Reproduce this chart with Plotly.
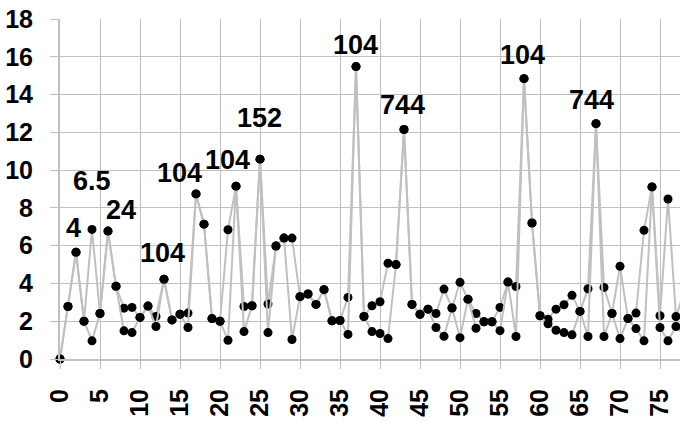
import plotly.graph_objects as go

x_vals = list(range(0, 79))
upper = [0, 2.78, 5.65, 2.0, 6.86, 2.41, 6.77, 3.85, 2.69, 2.73,
         2.2, 2.80, 2.25, 4.22, 2.07, 2.37, 2.43, 8.74, 7.14, 2.14,
         2.0, 6.84, 9.15, 2.78, 2.82, 10.58, 2.91, 5.98, 6.4, 6.4,
         3.3, 3.44, 2.89, 3.67, 2.02, 2.04, 3.26, 15.48, 2.25, 2.82,
         3.03, 5.07, 5.0, 12.15, 2.89, 2.37, 2.64, 2.41, 3.7, 2.7,
         4.06, 3.16, 2.41, 1.97, 1.97, 2.73, 4.07, 3.84, 14.84, 7.2,
         2.29, 2.11, 2.64, 2.87, 3.37, 2.52, 3.72, 12.46, 3.79, 2.41,
         4.91, 2.14, 2.43, 6.81, 9.11, 2.29, 8.47, 2.25, 3.5]
lower_diff = {4: 0.96, 8: 1.49, 9: 1.40, 12: 1.72, 16: 1.67, 21: 0.99, 23: 1.45,
              26: 1.40, 29: 1.03, 36: 1.30, 39: 1.45, 40: 1.35, 41: 1.08, 47: 1.67,
              48: 1.2, 50: 1.13, 52: 1.63, 55: 1.50, 57: 1.19, 61: 1.86, 62: 1.52,
              63: 1.40, 64: 1.28, 66: 1.19, 68: 1.19, 70: 1.08, 72: 1.61, 73: 0.96,
              75: 1.67, 76: 0.96, 77: 1.72, 78: 1.27}
lower = [lower_diff.get(i, v) for i, v in zip(x_vals, upper)]

label_x = [2, 4, 6, 13, 17, 22, 25, 37, 43, 58, 67]
label_text = ["4", "6.5", "24", "104", "104", "104", "152", "104", "744", "104", "744"]

x_ticks = list(range(0, 80, 5))
y_ticks = list(range(0, 20, 2))

# pixel offsets of labels relative to their points (style)
label_dx = [-3, 0, 13, -2, -17, -9, -1, -1, -1.5, -2, -5]
label_dy = [24, 48, 21, 26, 21, 26, 41, 22, 25, 24, 24]

line_style = dict(color="#c0c0c0", width=2)
marker_style = dict(color="black", size=9)

fig = go.Figure()
for ys in (upper, lower):
    fig.add_trace(go.Scatter(x=x_vals, y=ys, mode="lines+markers",
                             line=line_style, marker=marker_style,
                             cliponaxis=False, showlegend=False))

for xi, txt, dx, dy in zip(label_x, label_text, label_dx, label_dy):
    fig.add_annotation(x=xi, y=upper[xi], text=txt, showarrow=False,
                       xanchor="center", yanchor="middle", xshift=dx, yshift=dy,
                       font=dict(family="Liberation Sans, Arial", size=27,
                                 color="black", weight="bold"))

tick_font = dict(family="Liberation Sans, Arial", size=25, color="black", weight="bold")
fig.update_layout(
    width=680, height=430,
    margin=dict(l=60, r=0, t=19, b=71),
    plot_bgcolor="white", paper_bgcolor="white",
    xaxis=dict(range=[0, 77.5], tickvals=x_ticks, tickangle=-90, tickfont=tick_font,
               showgrid=True, gridcolor="#c0c0c0", gridwidth=1,
               showline=True, linecolor="#c0c0c0", linewidth=2,
               ticks="outside", ticklen=8, tickcolor="#c0c0c0", tickwidth=1,
               ticklabelstandoff=10, zeroline=False, fixedrange=True, automargin=False),
    yaxis=dict(range=[0, 18], tickvals=y_ticks, tickfont=tick_font,
               showgrid=True, gridcolor="#c0c0c0", gridwidth=1,
               showline=True, linecolor="#c0c0c0", linewidth=2,
               ticks="outside", ticklen=8, tickcolor="#c0c0c0", tickwidth=1,
               ticklabelstandoff=12, zeroline=False, fixedrange=True, automargin=False),
)
fig.write_html("out.html", config={"displayModeBar": False},
               post_script="document.body.style.margin='0px';document.body.style.overflow='hidden';")
